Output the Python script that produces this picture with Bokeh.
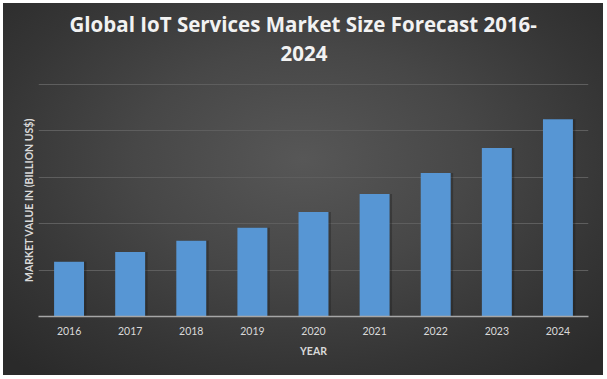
from bokeh.plotting import figure
from bokeh.models import Range1d, FixedTicker, FactorRange, Title
from bokeh.transform import dodge
from bokeh.embed import file_html
from bokeh.resources import INLINE

years = ["2016", "2017", "2018", "2019", "2020", "2021", "2022", "2023", "2024"]
values = [11.8, 13.9, 16.3, 19.1, 22.5, 26.4, 30.9, 36.3, 42.5]
y_ticks = [0, 10, 20, 30, 40, 50]
title_lines = ["Global IoT Services Market Size Forecast 2016-", "2024"]

W, H = 600, 372

p = figure(
    width=W, height=H,
    x_range=FactorRange(*years, range_padding=0),
    y_range=Range1d(0, 50.2),
    output_backend="svg", toolbar_location=None,
    min_border_left=35, min_border_right=15, min_border_top=80, min_border_bottom=59,
)
p.styles = {
    "margin": "3px 0 0 3px",
    "background": "radial-gradient(ellipse 70% 75% at 50% 42%, #575757 0%, #474747 40%, #353535 75%, #2a2a2a 100%)",
}
p.border_fill_color = None
p.background_fill_color = None
p.outline_line_color = None

# title: two lines (second added first so it sits nearest the frame),
# centred on the whole chart rather than on the plot frame
t2 = Title(text=title_lines[1], align="left", text_color="#f2f2f2",
           text_font="Open Sans", text_font_style="bold", text_font_size="20.5px",
           offset=242, standoff=46)
t1 = Title(text=title_lines[0], align="left", text_color="#f2f2f2",
           text_font="Open Sans", text_font_style="bold", text_font_size="20.5px",
           offset=31, standoff=-35)
p.add_layout(t2, "above")
p.add_layout(t1, "above")

src = dict(x=years, top=values)
# bar shadow
p.vbar(x=dodge("x", 0.04, range=p.x_range), top="top", width=0.49, source=src,
       fill_color="#1a1a1a", fill_alpha=0.35, line_color=None)
p.vbar(x="x", top="top", width=0.49, source=src,
       fill_color="#5796d4", line_color=None)

p.xgrid.grid_line_color = None
p.ygrid.grid_line_color = "#5e5e5e"
p.ygrid.grid_line_width = 1
p.ygrid.ticker = FixedTicker(ticks=y_ticks)
p.yaxis.ticker = FixedTicker(ticks=[])

p.yaxis.axis_line_color = None
p.yaxis.major_tick_line_color = None
p.yaxis.minor_tick_line_color = None
p.yaxis.major_label_standoff = 0
p.yaxis.axis_label = "MARKET VALUE IN (BILLION US$)"
p.yaxis.axis_label_text_font = "Lato"
p.yaxis.axis_label_text_font_style = "bold"
p.yaxis.axis_label_text_font_size = "10.5px"
p.yaxis.axis_label_text_color = "#d9d9d9"
p.yaxis.axis_label_standoff = 4

p.xaxis.axis_line_color = "#a6a6a6"
p.xaxis.axis_line_width = 1.5
p.xaxis.major_tick_line_color = None
p.xaxis.minor_tick_line_color = None
p.xaxis.major_label_text_font = "Lato"
p.xaxis.major_label_text_font_size = "10.5px"
p.xaxis.major_label_text_color = "#d9d9d9"
p.xaxis.major_label_standoff = 4
p.xaxis.axis_label = "YEAR"
p.xaxis.axis_label_text_font = "Lato"
p.xaxis.axis_label_text_font_style = "bold"
p.xaxis.axis_label_text_font_size = "10.5px"
p.xaxis.axis_label_text_color = "#d9d9d9"
p.xaxis.axis_label_standoff = 7

open("out.html", "w").write(file_html(p, INLINE))
